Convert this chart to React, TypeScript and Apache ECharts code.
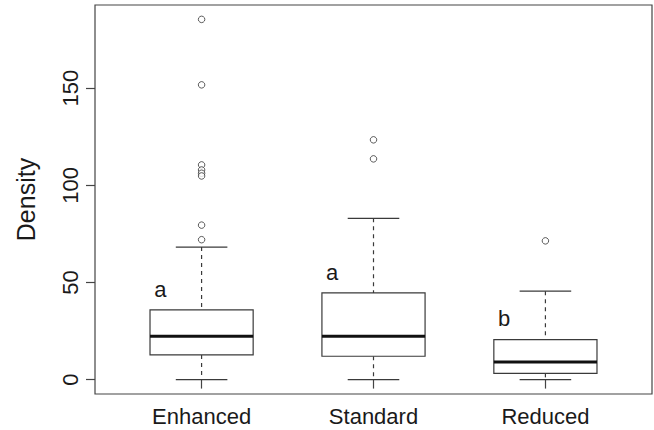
import React, { useEffect, useRef } from "react";
import * as echarts from "echarts";

const categories = ["Enhanced", "Standard", "Reduced"];
// [lower whisker, Q1, median, Q3, upper whisker]
const boxStats = [
  [0, 12.7, 22.3, 35.9, 68.2],
  [0, 12.0, 22.3, 44.6, 83.0],
  [0, 3.2, 9.1, 20.6, 45.5],
];
const outliers = [
  [1, 185.4],
  [1, 151.7],
  [1, 110.5],
  [1, 107.9],
  [1, 106.2],
  [1, 104.8],
  [1, 79.5],
  [1, 72.0],
  [2, 123.4],
  [2, 113.6],
  [3, 71.4],
];
const groupLetters = ["a", "a", "b"];
const letterY = [46.5, 55.0, 31.4];
const yTicks = [0, 50, 100, 150];
const yMin = -7.42;
const yMax = 192.8;

const FONT = "'Liberation Sans', Arial, Helvetica, sans-serif";
const LINE = "#3a3a3a";

export default function App() {
  const ref = useRef<HTMLDivElement>(null);
  useEffect(() => {
    document.body.style.margin = "0";
    const chart = echarts.init(ref.current!, null, { renderer: "svg" });
    const boxData = boxStats.map((s, i) => [i + 1, ...s]);
    const letterData = letterY.map((y, i) => [i + 1 - 0.24, y, groupLetters[i]]);
    chart.setOption({
      animation: false,
      backgroundColor: "#ffffff",
      grid: {
        left: 95,
        right: 2,
        top: 5,
        bottom: 36,
        show: true,
        borderColor: "#444",
        borderWidth: 1.2,
        backgroundColor: "#ffffff",
      },
      xAxis: {
        type: "value",
        min: 0.38,
        max: 3.62,
        splitLine: { show: false },
        axisLine: { show: false },
        axisTick: {
          show: true,
          inside: false,
          length: 9,
          customValues: [1, 2, 3],
          lineStyle: { color: "#444", width: 1.2 },
        },
        axisLabel: {
          customValues: [1, 2, 3],
          formatter: (v: number) => categories[Math.round(v) - 1] ?? "",
          fontFamily: FONT,
          fontSize: 22,
          color: "#1a1a1a",
          margin: 11,
        },
      },
      yAxis: {
        type: "value",
        min: yMin,
        max: yMax,
        name: "Density",
        nameLocation: "middle",
        nameRotate: 90,
        nameGap: 57,
        nameTextStyle: { fontFamily: FONT, fontSize: 25, color: "#1a1a1a" },
        splitLine: { show: false },
        axisLine: { show: false },
        axisTick: {
          show: true,
          inside: false,
          length: 9,
          customValues: yTicks,
          lineStyle: { color: "#444", width: 1.2 },
        },
        axisLabel: {
          customValues: yTicks,
          rotate: 90,
          fontFamily: FONT,
          fontSize: 22,
          color: "#1a1a1a",
          margin: 14,
        },
      },
      series: [
        {
          type: "custom",
          data: boxData,
          renderItem: (params: any, api: any) => {
            const x = api.value(0);
            const lo = api.value(1);
            const q1 = api.value(2);
            const med = api.value(3);
            const q3 = api.value(4);
            const hi = api.value(5);
            const half = 0.3;
            const cap = 0.15;
            const tl = api.coord([x - half, q3]);
            const br = api.coord([x + half, q1]);
            const mL = api.coord([x - half, med]);
            const mR = api.coord([x + half, med]);
            const c = api.coord([x, hi]);
            const cq3 = api.coord([x, q3]);
            const cq1 = api.coord([x, q1]);
            const cl = api.coord([x, lo]);
            const capL = api.coord([x - cap, hi]);
            const capR = api.coord([x + cap, hi]);
            const capLl = api.coord([x - cap, lo]);
            const capRl = api.coord([x + cap, lo]);
            const solid = { stroke: LINE, lineWidth: 1.2, fill: null };
            const dashed = { stroke: LINE, lineWidth: 1.2, lineDash: [4, 4], fill: null };
            return {
              type: "group",
              children: [
                { type: "line", shape: { x1: c[0], y1: c[1], x2: cq3[0], y2: cq3[1] }, style: dashed },
                { type: "line", shape: { x1: cq1[0], y1: cq1[1], x2: cl[0], y2: cl[1] }, style: dashed },
                { type: "line", shape: { x1: capL[0], y1: capL[1], x2: capR[0], y2: capR[1] }, style: solid },
                { type: "line", shape: { x1: capLl[0], y1: capLl[1], x2: capRl[0], y2: capRl[1] }, style: solid },
                {
                  type: "rect",
                  shape: { x: tl[0], y: tl[1], width: br[0] - tl[0], height: br[1] - tl[1] },
                  style: { stroke: LINE, lineWidth: 1.2, fill: "#ffffff" },
                },
                {
                  type: "line",
                  shape: { x1: mL[0], y1: mL[1], x2: mR[0], y2: mR[1] },
                  style: { stroke: "#111", lineWidth: 3 },
                },
              ],
            };
          },
          z: 2,
        },
        {
          type: "scatter",
          data: outliers,
          symbol: "circle",
          symbolSize: 6.5,
          itemStyle: { color: "#ffffff", borderColor: "#333", borderWidth: 1 },
          z: 3,
        },
        {
          type: "custom",
          data: letterData,
          renderItem: (params: any, api: any) => {
            const p = api.coord([api.value(0), api.value(1)]);
            return {
              type: "text",
              x: p[0],
              y: p[1],
              style: {
                text: groupLetters[params.dataIndex],
                fontFamily: FONT,
                fontSize: 22,
                fill: "#1a1a1a",
                align: "center",
                verticalAlign: "middle",
              },
            };
          },
          z: 4,
        },
      ],
    });
    return () => chart.dispose();
  }, []);
  return <div ref={ref} style={{ width: 654, height: 430 }} />;
}
